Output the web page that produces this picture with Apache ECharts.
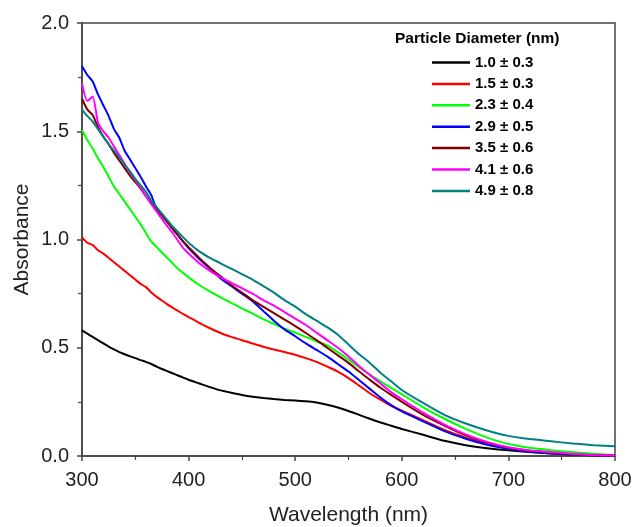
<!DOCTYPE html>
<html>
<head>
<meta charset="utf-8">
<script src="https://cdn.jsdelivr.net/npm/echarts@6/dist/echarts.min.js"></script>
<style>
  html, body { margin: 0; padding: 0; background: #fff; }
  #chart { width: 635px; height: 527px; }
</style>
</head>
<body>
<div id="chart"></div>
<script>
// wavelength grid (nm)
var wavelengths = [
    300,305,310,315,320,325,330,335,340,345,350,355,360,365,370,375,380,385,390,395,400,
    410,420,430,440,450,460,470,480,490,500,510,520,530,540,550,560,570,580,590,600,
    620,640,660,680,700,720,740,760,780,800
];

var names = ['1.0 ± 0.3', '1.5 ± 0.3', '2.3 ± 0.4', '2.9 ± 0.5', '3.5 ± 0.6', '4.1 ± 0.6', '4.9 ± 0.8'];
var colors = ['#000000', '#ff0000', '#00ff00', '#0000ff', '#800000', '#ff00ff', '#008080'];

var abs10 = [
    0.58,0.565,0.55,0.535,0.52,0.505,0.492,0.48,0.47,0.46,0.452,0.443,0.435,0.425,0.413,0.402,0.392,0.382,0.372,0.362,0.352,
    0.335,0.318,0.303,0.292,0.282,0.274,0.268,0.263,0.259,0.256,0.253,0.247,0.237,0.224,0.208,0.19,0.172,0.155,0.14,0.125,
    0.098,0.07,0.05,0.036,0.026,0.018,0.012,0.007,0.004,0.002
];
var abs15 = [
    1.01,0.985,0.975,0.95,0.935,0.915,0.895,0.875,0.855,0.835,0.815,0.795,0.78,0.755,0.735,0.718,0.70,0.685,0.67,0.655,0.642,
    0.615,0.59,0.568,0.55,0.535,0.52,0.505,0.492,0.48,0.468,0.452,0.435,0.413,0.39,0.36,0.325,0.29,0.26,0.232,0.21,
    0.165,0.12,0.085,0.057,0.037,0.023,0.014,0.008,0.004,0.001
];
var abs23 = [
    1.505,1.46,1.42,1.375,1.335,1.29,1.245,1.21,1.175,1.14,1.105,1.07,1.03,0.99,0.965,0.94,0.915,0.89,0.865,0.845,0.825,
    0.79,0.76,0.733,0.707,0.682,0.658,0.632,0.61,0.588,0.57,0.55,0.53,0.51,0.48,0.445,0.41,0.375,0.345,0.315,0.285,
    0.225,0.172,0.125,0.085,0.055,0.038,0.027,0.018,0.01,0.003
];
var abs29 = [
    1.80,1.76,1.73,1.67,1.62,1.57,1.51,1.47,1.41,1.37,1.33,1.29,1.245,1.205,1.14,1.115,1.085,1.05,1.02,0.99,0.96,
    0.91,0.865,0.82,0.785,0.75,0.715,0.67,0.625,0.585,0.553,0.52,0.49,0.46,0.425,0.39,0.35,0.31,0.27,0.235,0.206,
    0.16,0.115,0.08,0.052,0.033,0.02,0.012,0.007,0.003,0.001
];
var abs35 = [
    1.65,1.6,1.575,1.52,1.475,1.44,1.40,1.365,1.33,1.295,1.265,1.235,1.2,1.17,1.14,1.11,1.08,1.05,1.02,0.99,0.965,
    0.915,0.87,0.83,0.79,0.755,0.72,0.69,0.66,0.63,0.6,0.568,0.535,0.5,0.465,0.43,0.39,0.352,0.315,0.282,0.25,
    0.19,0.14,0.095,0.062,0.038,0.024,0.015,0.008,0.004,0.002
];
var abs41 = [
    1.72,1.64,1.66,1.54,1.50,1.47,1.43,1.39,1.35,1.31,1.275,1.24,1.2,1.163,1.13,1.095,1.062,1.03,0.995,0.96,0.935,
    0.89,0.855,0.825,0.8,0.775,0.75,0.72,0.695,0.665,0.635,0.605,0.57,0.535,0.5,0.46,0.415,0.375,0.335,0.295,0.262,
    0.2,0.145,0.1,0.065,0.04,0.026,0.018,0.01,0.005,0.002
];
var abs49 = [
    1.60,1.57,1.545,1.51,1.475,1.44,1.41,1.38,1.345,1.315,1.28,1.25,1.22,1.18,1.15,1.12,1.09,1.06,1.035,1.01,0.985,
    0.945,0.915,0.89,0.865,0.84,0.815,0.785,0.755,0.72,0.69,0.655,0.625,0.595,0.56,0.515,0.47,0.43,0.385,0.345,0.305,
    0.245,0.19,0.15,0.118,0.093,0.078,0.068,0.058,0.05,0.045
];

var allValues = [abs10, abs15, abs23, abs29, abs35, abs41, abs49];

var FONT = 'Liberation Sans, Arial, sans-serif';

var myChart = echarts.init(document.getElementById('chart'));

var series = [];
var legendData = [];
for (var i = 0; i < names.length; i++) {
    var pts = [];
    for (var j = 0; j < wavelengths.length; j++) {
        pts.push([wavelengths[j], allValues[i][j]]);
    }
    series.push({
        name: names[i],
        type: 'line',
        data: pts,
        symbol: 'none',
        smooth: 0.2,
        lineStyle: { color: colors[i], width: 2 },
        itemStyle: { color: colors[i] },
        z: 2 + i
    });
    legendData.push({ name: names[i], icon: 'rect', itemStyle: { color: colors[i] } });
}

var option = {
    animation: false,
    backgroundColor: '#fff',
    title: {
        text: 'Particle Diameter (nm)',
        left: 395,
        top: 31,
        padding: 0,
        textStyle: { fontFamily: FONT, fontSize: 15.5, fontWeight: 'bold', color: '#000' }
    },
    legend: {
        orient: 'vertical',
        left: 432,
        top: 55,
        padding: 0,
        itemWidth: 38,
        itemHeight: 2.5,
        itemGap: 6.4,
        data: legendData,
        textStyle: { fontFamily: FONT, fontSize: 15, fontWeight: 'bold', color: '#000', lineHeight: 15 }
    },
    grid: {
        left: 82, right: 20, top: 23, bottom: 71,
        outerBoundsMode: 'none',
        containLabel: false,
        show: true,
        borderColor: '#444',
        borderWidth: 1.5,
        backgroundColor: 'transparent'
    },
    xAxis: {
        type: 'value',
        min: 300, max: 800, interval: 100,
        name: 'Wavelength (nm)',
        nameLocation: 'middle',
        nameGap: 49,
        nameMoveOverlap: false,
        nameTextStyle: { fontFamily: FONT, fontSize: 21, color: '#222' },
        axisLine: { show: true, lineStyle: { color: '#444', width: 1.5 } },
        axisTick: { show: true, inside: false, length: 5, lineStyle: { color: '#444', width: 1.5 } },
        minorTick: { show: true, splitNumber: 2, length: 4, lineStyle: { color: '#444', width: 1.2 } },
        splitLine: { show: false },
        axisLabel: { fontFamily: FONT, fontSize: 20, color: '#222', margin: 14 }
    },
    yAxis: {
        type: 'value',
        min: 0, max: 2.0, interval: 0.5,
        name: 'Absorbance',
        nameLocation: 'middle',
        nameGap: 49,
        nameMoveOverlap: false,
        nameTextStyle: { fontFamily: FONT, fontSize: 21, color: '#222' },
        axisLine: { show: true, lineStyle: { color: '#444', width: 1.5 } },
        axisTick: { show: true, inside: false, length: 5, lineStyle: { color: '#444', width: 1.5 } },
        minorTick: { show: true, splitNumber: 2, length: 4, lineStyle: { color: '#444', width: 1.2 } },
        splitLine: { show: false },
        axisLabel: {
            fontFamily: FONT, fontSize: 20, color: '#222', margin: 13,
            formatter: function (v) { return v.toFixed(1); }
        }
    },
    series: series
};

myChart.setOption(option);
</script>
</body>
</html>
